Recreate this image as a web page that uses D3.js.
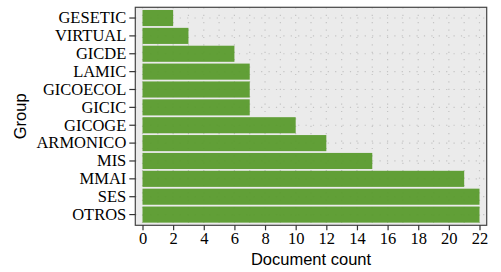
<!DOCTYPE html>
<html>
<head>
<meta charset="utf-8">
<script src="https://cdn.jsdelivr.net/npm/d3@7"></script>
<style>
  body { margin: 0; background: #fff; }
</style>
</head>
<body>
<div id="chart"></div>
<script>
var groups = ["GESETIC", "VIRTUAL", "GICDE", "LAMIC", "GICOECOL", "GICIC", "GICOGE", "ARMONICO", "MIS", "MMAI", "SES", "OTROS"]
var counts = [2, 3, 6, 7, 7, 7, 10, 12, 15, 21, 22, 22]
var xTicks = [0, 2, 4, 6, 8, 10, 12, 14, 16, 18, 20, 22]

var W = 501, H = 272
var panel = {left: 135.3, right: 486.7, top: 7.3, bottom: 225.3}

var data = groups.map((g, i) => ({group: g, count: counts[i]}))

var svg = d3.select("#chart").append("svg")
    .attr("width", W)
    .attr("height", H)

var xScale = d3.scaleLinear()
    .domain([0, 22])
    .range([142.5, 479.5])

var yScale = d3.scaleBand()
    .domain(groups)
    .range([panel.top, panel.bottom])
    .paddingInner(0.1)
    .paddingOuter(0.15)

// panel background
svg.append("rect")
  .attr("x", panel.left)
  .attr("y", panel.top)
  .attr("width", panel.right - panel.left)
  .attr("height", panel.bottom - panel.top)
  .attr("fill", "#ebebeb")

// dotted grid
var grid = svg.append("g").attr("class", "grid")
grid.selectAll("line.v")
  .data(d3.range(0, 23))
  .enter().append("line")
    .attr("x1", d => xScale(d)).attr("x2", d => xScale(d))
    .attr("y1", panel.top).attr("y2", panel.bottom)
    .attr("stroke", "#c4c4c4")
    .attr("stroke-width", 1.2)
    .attr("stroke-dasharray", "1.2,6.2")

grid.selectAll("line.h")
  .data(groups)
  .enter().append("line")
    .attr("x1", panel.left).attr("x2", panel.right)
    .attr("y1", d => yScale(d) + yScale.bandwidth() / 2)
    .attr("y2", d => yScale(d) + yScale.bandwidth() / 2)
    .attr("stroke", "#c4c4c4")
    .attr("stroke-width", 1.2)
    .attr("stroke-dasharray", "1.2,6.2")

// bars
svg.append("g").selectAll("rect")
  .data(data)
  .enter().append("rect")
    .attr("x", xScale(0))
    .attr("y", d => yScale(d.group))
    .attr("width", d => xScale(d.count) - xScale(0))
    .attr("height", yScale.bandwidth())
    .attr("fill", "#5b9b2f")
    .attr("fill-opacity", 0.96)

// panel border
svg.append("rect")
  .attr("x", panel.left)
  .attr("y", panel.top)
  .attr("width", panel.right - panel.left)
  .attr("height", panel.bottom - panel.top)
  .attr("fill", "none")
  .attr("stroke", "#444")
  .attr("stroke-width", 1.2)

var xAxis = d3.axisBottom(xScale)
  .tickValues(xTicks)
  .tickSize(5)
  .tickPadding(2)

var yAxis = d3.axisLeft(yScale)
  .tickSize(6)
  .tickPadding(3)

function styleAxis(g) {
  g.select(".domain").remove()
  g.attr("font-family", null).attr("font-size", null)
  g.selectAll(".tick line").attr("stroke", "#333").attr("stroke-width", 1.2)
  g.selectAll(".tick text")
    .attr("font-family", "Liberation Serif")
    .attr("font-size", 16.5)
    .style("font-family", "Liberation Serif")
    .attr("fill", "#000")
}

svg.append("g")
  .attr("class", "axis x")
  .attr("transform", "translate(0," + panel.bottom + ")")
  .call(xAxis)
  .call(styleAxis)

svg.append("g")
  .attr("class", "axis y")
  .attr("transform", "translate(" + panel.left + ",0)")
  .call(yAxis)
  .call(styleAxis)

svg.append("text")
  .attr("x", (panel.left + panel.right) / 2)
  .attr("y", 265)
  .attr("text-anchor", "middle")
  .style("font-family", "Liberation Sans")
  .style("font-size", "16.5px")
  .text("Document count")

svg.append("text")
  .attr("transform", "translate(26," + (panel.top + panel.bottom) / 2 + ") rotate(-90)")
  .attr("text-anchor", "middle")
  .style("font-family", "Liberation Sans")
  .style("font-size", "16.5px")
  .text("Group")
</script>
</body>
</html>
